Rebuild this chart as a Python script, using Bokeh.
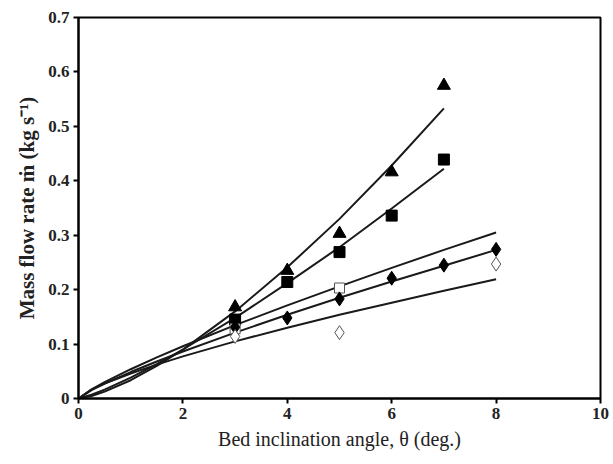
from bokeh.plotting import figure
from bokeh.models import Range1d, FixedTicker, CustomJSTickFormatter
from bokeh.embed import file_html
from bokeh.resources import INLINE

# Measured mass flow rates (kg/s) against bed inclination angle (deg.)
tri_x = [3, 4, 5, 6, 7]
tri_y = [0.168, 0.235, 0.303, 0.416, 0.575]

sq_x = [3, 4, 5, 6, 7]
sq_y = [0.145, 0.214, 0.269, 0.336, 0.439]

osq_x = [3, 5]
osq_y = [0.128, 0.203]

dia_x = [3, 4, 5, 6, 7, 8]
dia_y = [0.131, 0.148, 0.183, 0.221, 0.245, 0.274]

odia_x = [3, 5, 8]
odia_y = [0.114, 0.121, 0.247]

# Model curves (power-law fits through the origin)
fit_x7 = [0, 0.25, 0.5, 1, 1.5, 2, 3, 4, 5, 6, 7]
fit_x8 = [0, 0.25, 0.5, 1, 1.5, 2, 3, 4, 5, 6, 7, 8]
fit_tri = [0, 0.0047, 0.0126, 0.0336, 0.0598, 0.0899, 0.160, 0.241, 0.330, 0.428, 0.533]
fit_sq = [0, 0.0069, 0.0163, 0.0383, 0.0632, 0.090, 0.148, 0.212, 0.278, 0.349, 0.422]
fit_osq = [0, 0.0169, 0.0302, 0.0538, 0.0755, 0.096, 0.1347, 0.171, 0.206, 0.240, 0.273, 0.305]
fit_dia = [0, 0.0154, 0.0273, 0.0486, 0.068, 0.0864, 0.121, 0.154, 0.185, 0.215, 0.244, 0.273]
fit_odia = [0, 0.0163, 0.0274, 0.046, 0.0623, 0.0774, 0.105, 0.130, 0.154, 0.176, 0.198, 0.219]

x_ticks = [0, 2, 4, 6, 8, 10]
y_ticks = [0, 0.1, 0.2, 0.3, 0.4, 0.5, 0.6, 0.7]

serif = "Liberation Serif"

p = figure(width=613, height=464, output_backend="svg", toolbar_location=None,
           x_range=Range1d(0, 10), y_range=Range1d(0, 0.7),
           min_border_left=78, min_border_right=13, min_border_top=17, min_border_bottom=66)

p.xgrid.visible = False
p.ygrid.visible = False
p.outline_line_color = "black"
p.outline_line_width = 2
p.background_fill_color = "white"
p.border_fill_color = "white"

for ax in (p.xaxis[0], p.yaxis[0]):
    ax.axis_line_width = 2
    ax.major_tick_line_width = 2
    ax.major_tick_out = 5
    ax.major_tick_in = 0
    ax.minor_tick_out = 0
    ax.minor_tick_in = 0
    ax.major_label_text_font = serif
    ax.major_label_text_font_style = "bold"
    ax.major_label_text_font_size = "17px"
    ax.major_label_text_color = "#222222"
    ax.axis_label_text_font = serif
    ax.axis_label_text_color = "#222222"

p.xaxis.ticker = FixedTicker(ticks=x_ticks)
p.yaxis.ticker = FixedTicker(ticks=y_ticks)
p.yaxis.formatter = CustomJSTickFormatter(code="return tick == 0 ? '0' : tick.toFixed(1);")
p.xaxis.major_label_standoff = 4
p.yaxis.major_label_standoff = 4

p.xaxis.axis_label = "Bed inclination angle, θ (deg.)"
p.xaxis.axis_label_text_font_size = "20px"
p.xaxis.axis_label_text_font_style = "normal"
p.xaxis.axis_label_standoff = 6

p.yaxis.axis_label = "Mass flow rate ṁ (kg s⁻¹)"
p.yaxis.axis_label_text_font_size = "21px"
p.yaxis.axis_label_text_font_style = "bold"
p.yaxis.axis_label_standoff = 6

# fitted curves
for xs, ys in [(fit_x7, fit_tri), (fit_x7, fit_sq), (fit_x8, fit_osq),
               (fit_x8, fit_dia), (fit_x8, fit_odia)]:
    p.line(xs, ys, line_color="#1a1a1a", line_width=2)

# measured points
p.scatter(tri_x, tri_y, marker="triangle", size=13, fill_color="black", line_color="black")
p.scatter(sq_x, sq_y, marker="square", size=11, fill_color="black", line_color="black")
p.scatter(osq_x, osq_y, marker="square", size=10, fill_color="white", line_color="#555555", line_width=1)
p.scatter(dia_x, dia_y, marker="diamond", size=14, fill_color="black", line_color="black")
p.scatter(odia_x, odia_y, marker="diamond", size=14, fill_color="white", line_color="#555555", line_width=1)

open("out.html", "w").write(file_html(p, INLINE))
